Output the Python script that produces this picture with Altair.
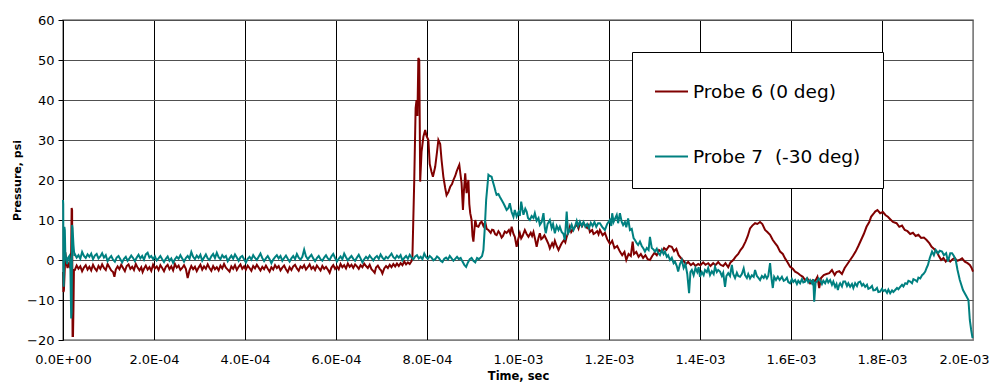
import altair as alt
import pandas as pd

series_names = ["Probe 6 (0 deg)", "Probe 7 \u00a0(-30 deg)"]
series_colors = ["#800000", "#008080"]

x_ticks = [0, 0.0002, 0.0004, 0.0006, 0.0008, 0.001, 0.0012, 0.0014, 0.0016, 0.0018, 0.002]
x_tick_labels = ["0.0E+00", "2.0E-04", "4.0E-04", "6.0E-04", "8.0E-04", "1.0E-03",
                 "1.2E-03", "1.4E-03", "1.6E-03", "1.8E-03", "2.0E-03"]
y_ticks = [-20, -10, 0, 10, 20, 30, 40, 50, 60]

# (time in microseconds, pressure psi)
probe6 = [
    (0, -3), (1, -8), (2, -7.5), (4, -2), (5, 2), (6, 1), (8, -1), (10, -2), (12, -1), (14, -1.5),
    (16, -0.5), (18, 2), (19, 13), (20, 12.5), (21, -19), (22, -19), (23, -12), (24, -2.5),
    (26, -2.5), (30, -1.4), (34, -2.2), (38, -1.6), (42, -2.8), (46, -1.9), (50, -1.3), (54, -2.4), (58, -1.7), (62, -2.6),
    (66, -1.2), (70, -2.1), (74, -2.7), (78, -1.5), (82, -2.2), (86, -1.1), (90, -2.0), (94, -2.5), (98, -1.0), (102, -1.8),
    (106, -2.6), (110, -3.0), (113, -4.2), (116, -2.4), (120, -1.6), (124, -2.3), (128, -1.2), (132, -2.0), (136, -2.8), (140, -1.5),
    (144, -1.1), (148, -2.2), (152, -1.7), (156, -2.5), (160, -1.0), (164, -1.9), (168, -2.6), (172, -1.8), (175, -3.0), (178, -2.2),
    (182, -1.4), (186, -2.4), (190, -1.8), (194, -2.7), (198, -1.2), (202, -2.1), (206, -1.6), (210, -2.5), (214, -1.3), (218, -2.0),
    (222, -2.8), (226, -1.7), (230, -1.2), (234, -2.3), (238, -1.6), (242, -2.6), (246, -1.0), (250, -1.9), (254, -1.4), (258, -2.5),
    (262, -2.0), (266, -1.3), (270, -2.2), (274, -4.5), (278, -2.6), (282, -1.5), (286, -2.3), (290, -1.7), (294, -2.8), (298, -1.9),
    (302, -1.2), (306, -2.4), (310, -1.6), (314, -2.2), (318, -1.1), (322, -2.0), (326, -2.7), (330, -1.5), (334, -2.3), (338, -1.8),
    (342, -2.6), (346, -1.4), (350, -2.1), (354, -1.0), (358, -1.9), (362, -2.4), (366, -2.9), (370, -1.6), (374, -2.2), (378, -1.3),
    (382, -2.5), (386, -1.7), (390, -1.1), (394, -2.2), (398, -1.6), (402, -2.4), (406, -1.4), (410, -2.0), (414, -2.7), (418, -1.5),
    (422, -2.1), (426, -1.2), (430, -1.9), (434, -2.6), (438, -1.7), (442, -2.3), (446, -1.4), (450, -2.2), (454, -2.9), (458, -1.8),
    (462, -2.4), (466, -1.3), (470, -2.0), (474, -1.5), (478, -2.6), (482, -1.9), (486, -1.4), (490, -2.3), (494, -3.0), (498, -1.8),
    (502, -2.5), (506, -1.6), (510, -1.2), (514, -2.1), (518, -2.7), (522, -1.6), (526, -2.0), (530, -1.3), (534, -2.4), (538, -1.8),
    (542, -1.1), (546, -2.2), (550, -1.7), (554, -2.5), (558, -1.4), (562, -2.0), (566, -2.6), (570, -1.5), (574, -2.2), (578, -1.7),
    (582, -2.4), (586, -3.2), (590, -1.9), (594, -1.3), (598, -2.2), (602, -1.6), (606, -2.3), (610, -1.0), (614, -1.8), (618, -1.3),
    (622, -2.1), (626, -0.9), (630, -1.7), (634, -1.2), (638, -2.0), (642, -1.1), (646, -1.6), (650, -2.2), (654, -1.3), (658, -1.8),
    (662, -0.9), (666, -1.5), (670, -2.0), (674, -1.2), (678, -2.3), (682, -2.8), (685, -3.2), (688, -1.9), (692, -1.4), (696, -2.2),
    (699, -2.6), (702, -3.4), (706, -2.1), (710, -1.5), (714, -2.0), (718, -1.2), (722, -1.8), (726, -1.0), (730, -1.6), (734, -0.9),
    (738, -1.5), (742, -0.8), (746, -1.3), (750, -0.4), (754, -1.1), (758, -0.6), (762, -1.0), (766, -0.3),
    (768, 1), (772, 20), (775, 38), (777, 40), (779, 36), (781, 50.5), (783, 50), (784, 35), (785, 19.6),
    (788, 27), (792, 30.8), (796, 32.5), (799, 31), (803, 30), (806, 24), (810, 22), (813, 20.8), (818, 23.3),
    (822, 27), (825, 30), (829, 29), (832, 25), (836, 20.8), (840, 18), (843, 16.2), (847, 17), (851, 18.3),
    (855, 19), (858, 20), (862, 21), (865, 22.1), (868, 23), (871, 23.8), (874, 21), (876, 19.2), (879, 12.5),
    (881, 17), (884, 21.7), (887, 16.7), (891, 20), (893, 14), (895, 11.7), (898, 10), (900, 6), (902, 4.6),
    (906, 10), (909, 8.5), (913, 8.3), (917, 9.3), (920, 9.6), (924, 8.5), (928, 9.5), (931, 7.8), (935, 7.5),
    (940, 6.8), (943, 7.6), (946, 7.5), (950, 6.4), (953, 6.2), (957, 7.2), (960, 6.7), (964, 5.6), (967, 6), (971, 7.1),
    (975, 6.8), (980, 7.5), (983, 6.6), (986, 8.3), (990, 6.5), (993, 5.8), (997, 3.3), (1000, 5), (1004, 6.7),
    (1007, 5.4), (1010, 6), (1015, 7.5), (1019, 6.5), (1023, 5.8), (1028, 6.8), (1031, 6.0), (1034, 7), (1038, 5),
    (1041, 3.3), (1045, 5.5), (1048, 6.7), (1051, 5.2), (1054, 5.5), (1058, 6.2), (1063, 5), (1067, 4), (1070, 2.9),
    (1075, 4.2), (1078, 3.4), (1081, 4.8), (1085, 3.5), (1089, 2.5), (1093, 3.5), (1096, 4.2), (1101, 5),
    (1104, 4.4), (1107, 5.8), (1111, 7), (1114, 8.3), (1117, 7.0), (1120, 7.5), (1125, 8.3), (1130, 8.8),
    (1133, 7.9), (1136, 9.2), (1141, 8.5), (1144, 9.3), (1147, 8.75), (1152, 8), (1155, 8.6), (1158, 7),
    (1163, 7.5), (1166, 6.5), (1169, 6.7), (1174, 7.2), (1177, 6.4),
    (1180, 7.5), (1186, 6.2), (1191, 6.8), (1196, 5.2), (1202, 4), (1207, 4.8), (1212, 3), (1218, 3.5),
    (1224, 2.1), (1229, 1.2), (1234, 2), (1238, 0), (1243, 1.5), (1248, 1), (1252, 4.6), (1255, 1.5),
    (1260, 2), (1265, 0.8), (1270, 1.5), (1275, 0.5), (1280, 1.2), (1285, 0.2), (1290, 0), (1295, 1),
    (1300, 1.8), (1305, 1.2), (1310, 2.5), (1316, 2), (1321, 3), (1326, 2.5), (1332, 3.5), (1338, 3.3),
    (1343, 2.2), (1348, 2.8), (1353, 1.2), (1358, 0.5), (1364, -0.3), (1369, -1), (1374, -0.5), (1380, -1.3),
    (1385, -0.8), (1390, -1.5), (1396, -1), (1401, -1.3), (1407, -0.6), (1412, -1.2), (1418, -0.8),
    (1423, -1.5), (1429, -0.8), (1434, -1.3), (1440, -0.5), (1445, -1.2), (1451, -1.5), (1456, -0.8),
    (1462, -1.8), (1467, -0.6), (1473, 0), (1478, 0.8), (1484, 1.5), (1489, 2.5), (1494, 3.2), (1500, 4.6),
    (1505, 6), (1510, 7.9), (1515, 8.6), (1521, 9.2), (1526, 9), (1532, 9.5), (1537, 9), (1543, 7.5),
    (1548, 7), (1554, 6.3), (1560, 5), (1565, 4.2), (1570, 3.5), (1576, 2.1), (1582, 1.5), (1587, 0.4),
    (1592, -0.5), (1598, -1.7), (1604, -2.2), (1609, -2.9), (1614, -3.2), (1620, -3.75), (1626, -4.2),
    (1631, -5), (1636, -4.6), (1642, -5.8), (1648, -5), (1653, -5.3), (1658, -4.2), (1662, -7), (1666, -4.5),
    (1672, -3.75), (1678, -3.5), (1684, -3.3), (1690, -2.5), (1696, -3.75), (1700, -3), (1706, -2.8),
    (1712, -3.5), (1718, -2), (1724, -1), (1730, 0), (1736, 1), (1742, 2.1), (1748, 3.5), (1754, 5),
    (1760, 6.5), (1766, 8.3), (1772, 9.5), (1776, 10.8), (1781, 11.5), (1785, 12.1), (1790, 12.5),
    (1796, 11.7), (1802, 12), (1808, 11.2), (1813, 10.8), (1818, 10.2), (1824, 9.5), (1832, 9.2),
    (1838, 8.3), (1844, 8.6), (1850, 7.5), (1856, 7.2), (1862, 6.5), (1868, 6.8), (1874, 6), (1880, 6.3),
    (1886, 5.5), (1892, 5.6), (1898, 5), (1904, 4.2), (1909, 3.3), (1914, 2.8), (1920, 2.1), (1925, 1),
    (1930, 0), (1935, 0.5), (1940, -0.4), (1945, 0.3), (1950, -0.4), (1955, 0.2), (1960, 0.5), (1965, -0.2),
    (1970, 0), (1976, 0.4), (1982, -0.4), (1988, -0.8), (1993, -1.25), (1997, -2), (2000, -2.9),
]

probe7 = [
    (0, 15), (0.5, 14), (1, -4.5), (1.5, -6.7), (3, 8.3), (4, 7.5), (5, 2), (7, 0), (9, -1), (11, 0.5),
    (14, 1), (16, -0.5), (18, -14.6), (19, -13), (20, 8.75), (21, 8), (23, 3.75), (25, 1),
    (26, 1.5), (30, 0.6), (34, 1.2), (38, 0.3), (42, 2.0), (46, 1.0), (50, 0.5), (54, 1.4), (58, 0.8), (62, 1.6),
    (66, 0.2), (70, 1.1), (74, 1.5), (78, 0.4), (82, 0.9), (86, 1.7), (90, 0.6), (94, 1.2), (98, -0.3), (102, 0.5),
    (106, 1.0), (110, 0.1), (114, -0.4), (118, 0.6), (122, 1.0), (126, 0.2), (130, -0.6), (134, 0.3), (138, 0.8), (142, -0.2),
    (146, 0.4), (150, 1.1), (154, 0.5), (158, -0.3), (162, 0.6), (166, 1.3), (170, 0.4), (174, 1.0), (178, 0.1), (182, 1.4),
    (186, 1.8), (190, 0.6), (194, 1.0), (198, 0.2), (202, 0.9), (206, -0.1), (210, 0.4), (214, 1.0), (218, 0.2), (222, -0.5),
    (226, 0.3), (230, 0.9), (234, -0.2), (238, 0.4), (242, -0.7), (246, 0.2), (250, 0.8), (254, 0.3), (258, 1.2), (262, 0.4),
    (266, -0.4), (270, 0.5), (274, 1.0), (278, 0.3), (282, 2.0), (286, 0.8), (290, 0.2), (294, 1.1), (298, 0.5), (302, 1.3),
    (306, -0.2), (310, 0.6), (314, 1.4), (318, 0.4), (322, 0.0), (326, 0.9), (330, 1.5), (334, 0.5), (338, 1.8), (342, 0.7),
    (346, 0.2), (350, 1.2), (354, 0.6), (358, 1.0), (362, -0.3), (366, 0.4), (370, 1.1), (374, 0.3), (378, 1.4), (382, 0.6),
    (386, -0.2), (390, 0.7), (394, 1.0), (398, 0.2), (402, -0.6), (406, 0.3), (410, 0.8), (414, 0.1), (418, 1.2), (422, 0.5),
    (426, 0.0), (430, 0.8), (434, 1.6), (438, 0.5), (442, -0.3), (446, 0.4), (450, 1.0), (454, 0.2), (458, -0.8), (462, 0.1),
    (466, 0.7), (470, 1.2), (474, 0.4), (478, 1.0), (482, -0.2), (486, 0.5), (490, 1.1), (494, 0.3), (498, -0.4), (502, 0.4),
    (506, 1.0), (510, 0.2), (514, 1.5), (518, 0.6), (522, 0.1), (526, 0.8), (530, 2.6), (534, 0.9), (538, 0.2), (542, 0.8),
    (546, 1.3), (550, 0.4), (554, -0.3), (558, 0.5), (562, 1.0), (566, 0.2), (570, -0.2), (574, 0.6), (578, 1.2), (582, 0.4),
    (586, 0.0), (590, 0.9), (594, 1.5), (598, 0.5), (602, -0.4), (606, 0.3), (610, 0.9), (614, 0.2), (618, 1.6), (622, 0.7),
    (626, -0.1), (630, 0.5), (634, 1.0), (638, 0.3), (642, -0.2), (646, 0.6), (650, 1.3), (654, 0.4), (658, -0.6), (662, 0.2),
    (666, 0.8), (670, 0.3), (674, 1.1), (678, 0.5), (682, -0.1), (686, 0.6), (690, 1.0), (694, 0.3), (698, 1.4), (702, 0.6),
    (706, 0.1), (710, 0.8), (714, 0.4), (718, 1.0), (722, 1.6), (726, 0.7), (730, 0.3), (734, 1.1), (738, 0.6), (742, 1.2),
    (746, -0.1), (750, 0.5), (754, 1.0), (758, 0.3), (762, 1.3), (766, 0.6), (770, 0.2), (774, 0.9), (778, 1.2), (782, 0.4),
    (786, 0.8), (790, 0.2), (794, 1.6), (798, 0.7), (802, 0.3), (806, 1.0), (810, 0.6), (814, -0.1), (818, 0.2), (822, 0.9),
    (826, 0.5), (830, -0.2), (834, -0.5), (838, 0.3), (842, 0.6), (846, 0.1), (850, 1.0), (854, 0.4), (858, -0.2), (862, 0.3),
    (866, 0.8), (870, 0.2), (874, 0.5), (878, -0.4), (882, -1.2), (886, -1.7), (890, -0.6), (894, 0.2), (898, 0.5), (902, -0.2),
    (906, -0.6), (910, 0.5), (914, 0.2), (918, 0.6),
    (921, 1), (924, 2.5), (927, 8), (930, 15), (935, 21.3), (938, 21), (942, 20.8), (945, 19.5),
    (948, 18.3), (951, 17), (953, 16.3), (957, 16.5), (960, 15.8), (964, 15), (968, 14.2), (971, 13.5),
    (975, 12.5), (979, 13), (982, 14.2), (986, 12), (990, 10.8), (993, 12.5), (997, 10.9), (1001, 12),
    (1004, 11), (1007, 14.6), (1010, 12.5), (1012, 11.3), (1016, 12.8), (1019, 12.1), (1022, 10.5),
    (1026, 10), (1030, 11), (1034, 10.5), (1037, 11.7), (1041, 9.8), (1045, 10.5), (1048, 8.8), (1052, 9.5),
    (1056, 11.7), (1059, 8), (1061, 6.7), (1065, 9), (1070, 10), (1074, 8), (1077, 9), (1081, 6.7),
    (1085, 8.5), (1089, 7.5), (1092, 8.3), (1096, 7), (1100, 6.5), (1103, 5), (1107, 12.1), (1110, 6.7),
    (1114, 7.5), (1118, 8.8), (1122, 7.5), (1125, 8.3), (1129, 9.8), (1132, 8.5), (1136, 9.6), (1140, 8.5),
    (1144, 9.5), (1148, 8.3), (1152, 9), (1156, 8), (1160, 9.3), (1164, 8.5), (1168, 9.5), (1172, 8.3),
    (1176, 9.2), (1180, 9.2), (1185, 8.3), (1191, 7.5), (1196, 9), (1202, 10), (1205, 8.5), (1207, 11.7),
    (1210, 9.5), (1214, 10.5), (1217, 11.25), (1220, 9.2), (1224, 11.7), (1228, 9.5), (1231, 8.75),
    (1235, 9.5), (1238, 8.2), (1242, 10.4), (1246, 7.5), (1250, 7.8), (1254, 5.5), (1257, 5), (1261, 4.2),
    (1264, 3.75), (1268, 4.6), (1272, 3.5), (1276, 2.8), (1279, 2.1), (1283, 3), (1287, 2.5), (1290, 5.8),
    (1294, 3), (1298, 2.6), (1301, 2.1), (1305, 2.8), (1308, 1.8), (1312, 1.25), (1316, 2.5), (1320, 1.5),
    (1323, 2.1), (1327, 0.8), (1330, 1.2), (1334, 0), (1338, 0.6), (1342, -0.8), (1345, -0.4), (1349, -1.5),
    (1352, -2.9), (1356, -1), (1360, 0), (1364, -2), (1368, -1), (1372, -3.5), (1376, -8.3), (1379, -3),
    (1382, -2.5), (1386, -3.8), (1390, -2), (1394, -3), (1397, -1.8), (1400, -4.2), (1404, -3), (1408, -3.8),
    (1411, -2.5), (1415, -3), (1418, -2), (1422, -3.75), (1426, -2.8), (1430, -3.5), (1433, -1.7),
    (1437, -3), (1440, -2.5), (1444, -2.9), (1448, -4), (1451, -3.2), (1455, -6.7), (1458, -4), (1462, -3.3),
    (1466, -4), (1470, -1.25), (1473, -3.5), (1477, -4.5), (1481, -3.2), (1484, -4), (1488, -4.2),
    (1492, -3.5), (1496, -2.1), (1499, -3.8), (1503, -4.5), (1506, -3.5), (1510, -4.6), (1514, -3.8),
    (1518, -4.2), (1521, -2.5), (1525, -4), (1528, -4.4), (1532, -5), (1536, -4), (1540, -4.5),
    (1543, -3.75), (1547, -4.6), (1550, -4), (1554, -0.8), (1557, -4.5), (1560, -7), (1563, -4.2),
    (1567, -5), (1571, -4.2), (1575, -5), (1580, -4.2), (1584, -5.2), (1587, -5), (1591, -4.4), (1594, -5.5),
    (1598, -5.8), (1602, -4.8), (1605, -5.5), (1609, -5), (1613, -6), (1616, -5.2), (1620, -5.8),
    (1624, -4.8), (1627, -5.6), (1631, -5.4), (1635, -4.6), (1638, -5.6), (1642, -5), (1646, -5.8),
    (1649, -4.8), (1651, -10.4), (1654, -5.6), (1657, -5.4), (1661, -4.6), (1664, -5), (1668, -6),
    (1671, -5.2), (1675, -5.8), (1679, -4.8), (1682, -5.6), (1686, -5), (1690, -6.2), (1693, -5.4),
    (1697, -6.7), (1700, -6), (1703, -7.5), (1706, -6.2), (1708, -5.8), (1712, -6.6), (1715, -5.4),
    (1719, -5.4), (1723, -6.5), (1726, -5.8), (1730, -6.7), (1734, -6), (1737, -7), (1741, -5.8),
    (1745, -6.5), (1748, -5.6), (1752, -5.4), (1756, -6.4), (1759, -6), (1763, -6.7), (1767, -6.2),
    (1770, -7.2), (1774, -7), (1778, -6.5), (1781, -7.6), (1785, -7.5), (1789, -7), (1792, -8), (1796, -7.9),
    (1800, -7.2), (1803, -7.8), (1807, -7.5), (1811, -8.2), (1814, -7.4), (1818, -8.3), (1822, -7.6),
    (1825, -8), (1829, -7.5), (1833, -7), (1836, -7.3), (1840, -6.7), (1844, -6.2), (1847, -6.6),
    (1851, -5.8), (1855, -6), (1858, -5.2), (1862, -5.4), (1866, -5.8), (1869, -4.8), (1873, -5),
    (1877, -5.4), (1880, -4.4), (1884, -4.6), (1888, -3.8), (1891, -3.5), (1895, -2.9), (1898, -2),
    (1901, -1.25), (1905, 0.5), (1910, 2.1), (1914, 1.2), (1918, 2.5), (1923, 1.7), (1927, 2.3),
    (1932, 2.1), (1936, 1.2), (1941, 1.7), (1945, -0.4), (1950, 1.7), (1954, 1.7), (1958, 1), (1962, 0),
    (1966, -2.5), (1971, -5), (1978, -7.5), (1984, -8.75), (1990, -10), (1993, -15), (1996, -17.5),
    (1999, -19.5),
]

rows = []
for name, pts in ((series_names[0], probe6), (series_names[1], probe7)):
    for t, v in pts:
        rows.append({"t": t * 1e-6, "v": v, "series": name})
df = pd.DataFrame(rows)

label_expr = "[" + ",".join("'%s'" % s for s in x_tick_labels) + "][round(datum.value/0.0002)]"
FONT = "DejaVu Sans"
LAST = "datum.value >= 0.0019"

x_axis = alt.Axis(
    values=x_ticks, labelExpr=label_expr, title="Time, sec",
    grid=True,
    gridColor={"condition": {"test": LAST, "value": "#808080"}, "value": "#000000"},
    gridWidth=1, ticks=False, tickSize=0, domain=False,
    labelFont=FONT, labelFontSize=13, labelColor="#000000", labelPadding=19,
    labelBaseline="middle", labelFlush=False, labelOverlap=False,
    labelAlign={"condition": {"test": LAST, "value": "right"}, "value": "center"},
    labelOffset={"condition": {"test": LAST, "value": 16}, "value": 0},
    titleFont=FONT, titleFontSize=11.5, titleFontWeight="bold", titleColor="#000000",
    titleX=455, titleY=36, titleBaseline="middle", titleAlign="center",
)
y_axis = alt.Axis(
    values=y_ticks, title="Pressure, psi",
    grid=True,
    gridColor={"condition": {"test": "datum.value <= -20", "value": "#808080"}, "value": "#505050"},
    gridWidth=1, domainColor="#000000", domainWidth=1, tickColor="#000000", tickSize=5,
    labelFont=FONT, labelFontSize=13, labelColor="#000000", labelPadding=4,
    titleFont=FONT, titleFontSize=11, titleFontWeight="bold", titleColor="#000000",
    titleX=-46, titleY=160, titleAngle=270, titleBaseline="middle", titleAlign="center",
)

legend = alt.Legend(
    title=None, orient="none", legendX=569, legendY=32,
    fillColor="white", strokeColor="#000000", padding=22,
    symbolType="stroke", symbolSize=1089, symbolStrokeWidth=2,
    labelFont=FONT, labelFontSize=18.5, labelColor="#000000", labelOffset=4,
    labelLimit=400, rowPadding=38,
)

chart = alt.Chart(df).mark_line(strokeWidth=2).encode(
    x=alt.X("t:Q", scale=alt.Scale(domain=[0, 0.002], nice=False, zero=False), axis=x_axis),
    y=alt.Y("v:Q", scale=alt.Scale(domain=[-20, 60], nice=False), axis=y_axis),
    color=alt.Color("series:N", scale=alt.Scale(domain=series_names, range=series_colors), legend=legend),
).properties(
    width=910, height=320,
    padding={"left": 55, "top": 12, "right": 17, "bottom": 42},
    autosize=alt.AutoSizeParams(type="none"),
    background="white",
).configure_view(stroke="#808080", strokeWidth=1.5)

chart.save("out.html", embed_options={"renderer": "svg", "actions": False})
